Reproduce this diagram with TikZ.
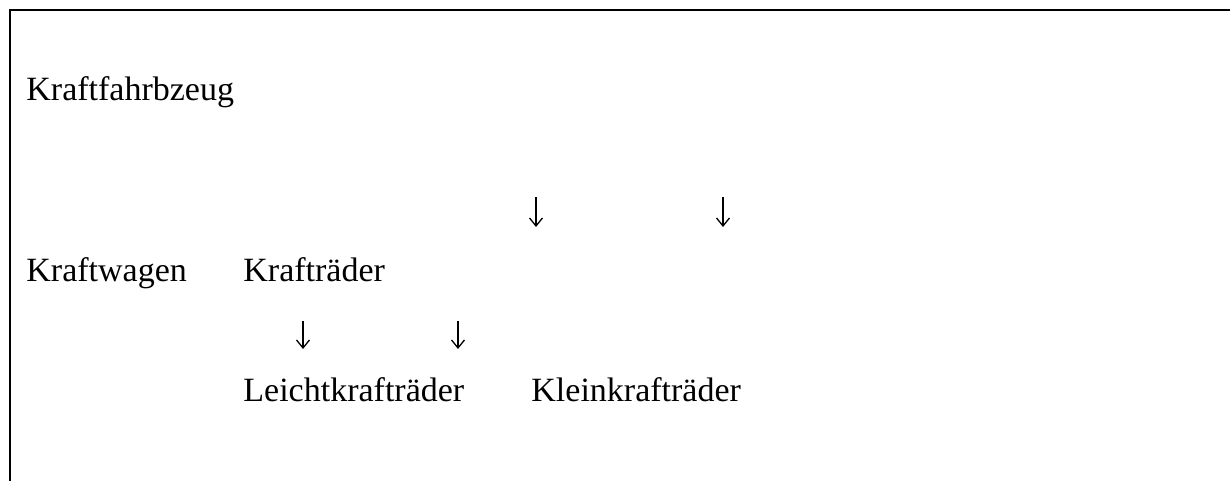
\documentclass[tikz,border=0pt]{standalone}
\usepackage{fontspec}
\setmainfont{Liberation Serif}
\usetikzlibrary{arrows.meta}
\tikzset{
  word/.style={anchor=base west, inner sep=0pt, font=\fontsize{17}{20}\selectfont},
  down/.style={-{Straight Barb[length=4pt,width=6.5pt]}, line width=0.65pt}
}
\begin{document}
\begin{tikzpicture}[x=0.5pt,y=-0.5pt]
\useasboundingbox (0,0) rectangle (1230,481);
% frame, open at the right and bottom
\draw[line width=1.2pt] (10,481) -- (10,10) -- (1230,10);
\node[word] (fzg) at (26,101) {Kraftfahrbzeug};
\node[word] (wagen) at (26,281) {Kraftwagen};
\node[word] (krad) at (243,281) {Krafträder};
\node[word] (leicht) at (243,401) {Leichtkrafträder};
\node[word] (klein) at (531,401) {Kleinkrafträder};
% arrow ends
\foreach \x/\n in {536/a,723/b}
	{\coordinate (t\n) at (\x,197);
	 \coordinate (h\n) at (\x,227);}
\foreach \x/\n in {303/c,458/d}
	{\coordinate (t\n) at (\x,321);
	 \coordinate (h\n) at (\x,349);}
\foreach \n in {a,b,c,d}
	\draw[down] (t\n) -- (h\n);
\end{tikzpicture}
\end{document}
